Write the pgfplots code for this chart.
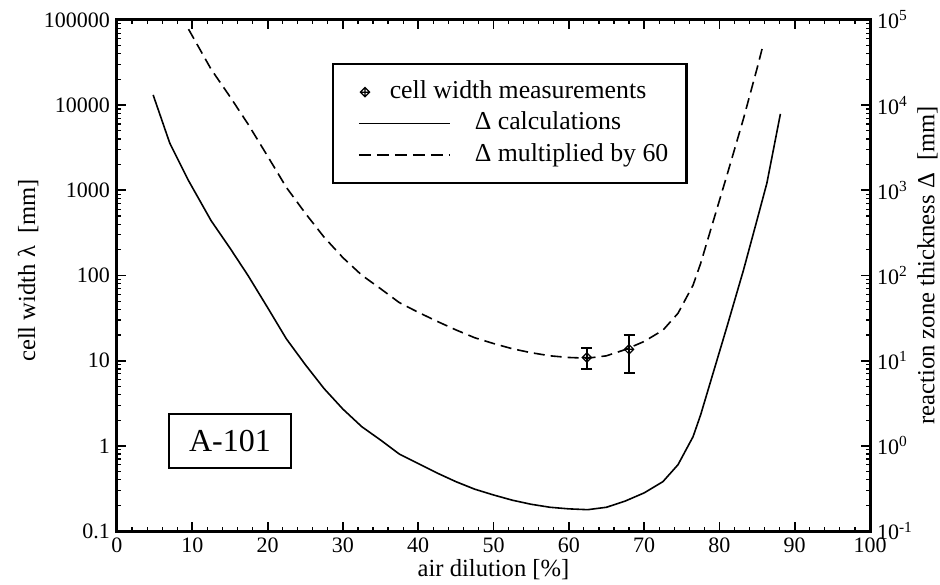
\documentclass[border=0pt]{standalone}
\usepackage{fontspec}
\setmainfont{Liberation Serif}
\usepackage{pgfplots}
\pgfplotsset{compat=1.18}
\pgfdeclareplotmark{dplus}{%
  \pgfpathmoveto{\pgfqpoint{\pgfplotmarksize}{0pt}}%
  \pgfpathlineto{\pgfqpoint{0pt}{\pgfplotmarksize}}%
  \pgfpathlineto{\pgfqpoint{-\pgfplotmarksize}{0pt}}%
  \pgfpathlineto{\pgfqpoint{0pt}{-\pgfplotmarksize}}%
  \pgfpathclose
  \pgfpathmoveto{\pgfqpoint{\pgfplotmarksize}{0pt}}%
  \pgfpathlineto{\pgfqpoint{-\pgfplotmarksize}{0pt}}%
  \pgfpathmoveto{\pgfqpoint{0pt}{\pgfplotmarksize}}%
  \pgfpathlineto{\pgfqpoint{0pt}{-\pgfplotmarksize}}%
  \pgfusepathqstroke}
\pgfplotsset{
  markleg/.style={legend image code/.code={\draw[##1] plot coordinates {(3pt,0pt)};}},
  lineleg/.style={legend image code/.code={\draw[##1] (0pt,0pt) -- (45.5pt,0pt);}},
}
\begin{document}
\begin{tikzpicture}
\begin{axis}[
  scale only axis, width=376.5pt, height=255.5pt,
  xmin=0, xmax=100, ymode=log, ymin=0.1, ymax=100000,
  ytick={0.1,1,10,100,1000,10000,100000},
  tick align=inside,
  /pgf/number format/assume math mode=true,
  ticklabel style={font=\fontsize{11}{13}\selectfont},
  label style={font=\fontsize{12.3}{14}\selectfont},
  xtick={0,10,...,100}, minor x tick num=4,
  yticklabels={0.1,1,10,100,1000,10000,100000},
  minor ytick={0.2,0.3,0.4,0.5,0.6,0.7,0.8,0.9,2,3,4,5,6,7,8,9,20,30,40,50,60,70,80,90,200,300,400,500,600,700,800,900,2000,3000,4000,5000,6000,7000,8000,9000,20000,30000,40000,50000,60000,70000,80000,90000},
  xtick pos=both, ytick pos=both, xticklabel pos=lower, yticklabel pos=left,
  axis line style={line width=1.5pt},
  major tick length=4.5pt, minor tick length=2.2pt,
  major tick style={line width=0.9pt, black},
  minor tick style={line width=0.6pt, black},
  xlabel={air dilution [\%]},
  xlabel style={at={(axis description cs:0.5,-0.0763)}, anchor=center},
  ylabel={cell width λ~~[mm]},
  ylabel style={at={(axis description cs:-0.118,0.51)}, anchor=center},
  legend cell align=left,
  legend style={at={(axis description cs:0.2855,0.9159)}, anchor=north west,
    draw=black, line width=1.2pt, fill=white,
    inner xsep=12.5pt, inner ysep=8pt, row sep=3.75pt, column sep=12pt,
    font=\fontsize{12.9}{15}\selectfont,
    nodes={inner sep=0pt, text height=9pt, text depth=3pt}},
]
\addlegendimage{markleg, only marks, mark=dplus, mark size=2.3pt, mark options={line width=0.6pt, solid}}
\addlegendentry{\hspace*{-42.5pt}cell width measurements}
\addlegendimage{lineleg, line width=0.8pt}
\addlegendentry{Δ calculations}
\addlegendimage{lineleg, line width=0.8pt, dash pattern=on 6pt off 3pt}
\addlegendentry{Δ multiplied by 60\hspace*{-3.5pt}}

% Delta calculations
\addplot[black, line width=0.8pt, forget plot] coordinates {
(4.8,13200) (7.0,3600) (9.5,1300) (12.5,440) (15,210) (17.4,100) (20,42)
(22.5,18) (25,9.0) (27.5,4.7) (30,2.7) (32.5,1.68) (35,1.17) (37.5,0.80)
(40,0.62) (42.5,0.48) (45,0.38) (47.5,0.31) (50,0.265) (52.5,0.23)
(55,0.206) (57.5,0.19) (60,0.182) (62.5,0.178) (65,0.19) (67.5,0.225)
(70,0.28) (72.5,0.38) (74.5,0.6) (76.5,1.28) (77.5,2.3) (79,6.4)
(81,25) (83.2,116) (85,450) (86.3,1210) (88.1,7900)
};
% Delta multiplied by 60
\addplot[black, line width=0.8pt, dash pattern=on 5.5pt off 3pt, forget plot] coordinates {
(9.5,78000) (12.5,26400) (15,12600) (17.4,6000) (20,2520) (22.5,1080)
(25,540) (27.5,282) (30,162) (32.5,101) (35,70) (37.5,48) (40,37)
(42.5,29) (45,23) (47.5,18.6) (50,15.9) (52.5,13.8) (55,12.4) (57.5,11.4)
(60,10.9) (62.5,10.7) (65,11.4) (67.5,13.5) (70,16.8) (72.5,22.8)
(74.5,36) (76.5,77) (77.5,138) (79,384) (81,1500) (83.2,6960) (85,27000)
(85.7,47000)
};
% measurements
\addplot[black, only marks, mark=dplus, mark size=2.3pt,
  mark options={line width=0.6pt, solid, fill=white}, forget plot,
  error bars/.cd, y dir=both, y explicit,
  error bar style={line width=0.9pt, black},
  error mark options={rotate=90, mark size=2.75pt, line width=0.9pt, black}]
coordinates {
(62.4,10.9) += (0,3.3) -= (0,2.9)
(68.0,13.6) += (0,6.4) -= (0,6.5)
};
\node[draw, line width=1.2pt, minimum width=61pt, minimum height=27pt,
  font=\fontsize{16}{18}\selectfont, inner sep=0pt]
  at (axis description cs:0.150,0.176) {A-101};
\end{axis}
\begin{axis}[
  scale only axis, width=376.5pt, height=255.5pt,
  xmin=0, xmax=100, ymode=log, ymin=0.1, ymax=100000,
  ytick={0.1,1,10,100,1000,10000,100000},
  /pgf/number format/assume math mode=true,
  ticklabel style={font=\fontsize{11}{13}\selectfont},
  label style={font=\fontsize{12.3}{14}\selectfont},
  axis x line=none, axis y line*=right,
  axis line style={draw=none},
  yticklabels={10\textsuperscript{-1},10\textsuperscript{0},10\textsuperscript{1},10\textsuperscript{2},10\textsuperscript{3},10\textsuperscript{4},10\textsuperscript{5}},
  major tick length=0pt, minor tick length=0pt,
  ylabel={reaction zone thickness Δ~~[mm]},
  ylabel style={at={(axis description cs:1.0764,0.52)}, anchor=center},
]
\end{axis}
\pgfresetboundingbox
\path[use as bounding box] (-58.5pt,-26.5pt) rectangle (411.5pt,265.5pt);
\end{tikzpicture}
\end{document}
